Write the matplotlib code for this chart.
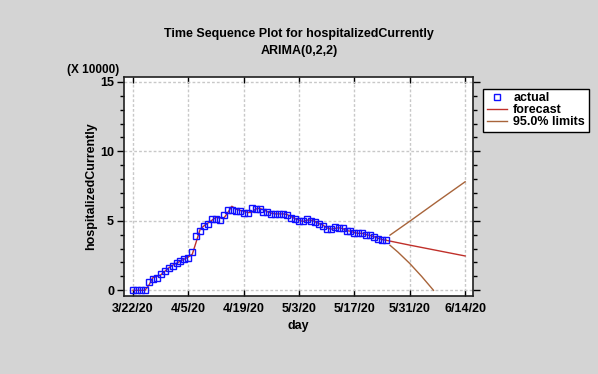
import numpy as np
import pandas as pd
import matplotlib
matplotlib.use('Agg')
import matplotlib.pyplot as plt
from matplotlib.ticker import MultipleLocator
from matplotlib.lines import Line2D

plt.rcParams['font.family'] = ['Liberation Sans', 'DejaVu Sans']
plt.rcParams['font.weight'] = 'bold'

# data (units of 10000)
start_day = '2020-03-22'
actual = [0.0, 0.0, 0.0, 0.05, 0.6, 0.8, 0.9, 1.15, 1.4, 1.6,
          1.75, 1.95, 2.1, 2.25, 2.3, 2.75, 3.9, 4.3, 4.6, 4.8,
          5.1, 5.1, 5.05, 5.4, 5.8, 5.75, 5.7, 5.7, 5.55, 5.55,
          5.9, 5.85, 5.85, 5.65, 5.6, 5.5, 5.5, 5.5, 5.5, 5.4,
          5.2, 5.1, 5.0, 5.0, 5.1, 5.0, 4.9, 4.75, 4.65, 4.4,
          4.4, 4.55, 4.5, 4.45, 4.25, 4.25, 4.15, 4.15, 4.1, 4.0,
          3.95, 3.8, 3.7, 3.65, 3.65]
fitted = [0.0, 0.0, 0.0, 0.0, 0.35, 0.9, 1.0, 1.1, 1.35, 1.6,
          1.8, 1.95, 2.1, 2.25, 2.4, 2.6, 3.5, 4.4, 4.65, 4.85,
          5.05, 5.25, 5.2, 5.2, 5.6, 6.05, 5.85, 5.75, 5.7, 5.6,
          5.6, 5.85, 5.9, 5.8, 5.65, 5.55, 5.5, 5.5, 5.5, 5.45,
          5.3, 5.15, 5.05, 4.95, 5.05, 5.05, 4.95, 4.8, 4.7, 4.5,
          4.4, 4.45, 4.5, 4.45, 4.3, 4.25, 4.15, 4.1, 4.1, 4.0,
          3.95, 3.85, 3.75, 3.65, 3.6]
fc_dates = ['2020-05-25', '2020-05-31', '2020-06-14']
fc_values = [3.6, 3.25, 2.47]
up_dates = ['2020-05-26', '2020-05-31', '2020-06-07', '2020-06-14']
up_values = [3.97, 4.97, 6.4, 7.81]
lo_dates = ['2020-05-26', '2020-05-28', '2020-05-31', '2020-06-03', '2020-06-06']
lo_values = [3.24, 2.75, 1.93, 1.0, 0.0]
tick_labels = ['3/22/20', '4/5/20', '4/19/20', '5/3/20', '5/17/20', '5/31/20', '6/14/20']

days = pd.date_range(start_day, periods=len(actual), freq='D')
tick_dates = pd.to_datetime(tick_labels, format='%m/%d/%y')

red = '#c0302a'
brown = '#a8643a'

fig = plt.figure(figsize=(5.98, 3.74), dpi=100, facecolor='#d4d4d4')
ax = fig.add_axes([0.207, 0.209, 0.584, 0.585])
ax.set_facecolor('white')

ax.plot(days, fitted, color=red, lw=1.0, zorder=2)
ax.plot(days, actual, 's', ms=4.5, mfc='none', mec='#1010ff', mew=1.0, zorder=3)
ax.plot(pd.to_datetime(fc_dates), fc_values, color=red, lw=1.0)
ax.plot(pd.to_datetime(up_dates), up_values, color=brown, lw=1.0)
ax.plot(pd.to_datetime(lo_dates), lo_values, color=brown, lw=1.0)

ax.set_xlim(pd.Timestamp('2020-03-19 16:00'), pd.Timestamp('2020-06-16'))
ax.set_ylim(-0.4, 15.35)
ax.set_xticks(tick_dates)
ax.set_xticklabels(tick_labels)
ax.yaxis.set_major_locator(MultipleLocator(5))
ax.yaxis.set_minor_locator(MultipleLocator(1))
ax.grid(True, which='major', color='#c8c8c8', ls=(0, (2, 1.5)), lw=1.0)

ax.tick_params(axis='x', direction='in', top=True, length=4, width=1, labelsize=9, pad=5)
ax.tick_params(axis='y', which='both', direction='out', right=True, width=1, labelsize=9, pad=2)
ax.tick_params(axis='y', which='major', length=5)
ax.tick_params(axis='y', which='minor', length=3)
for s in ax.spines.values():
    s.set_linewidth(1.2)
    s.set_color('#202020')

ax.set_xlabel('day', fontsize=9, fontweight='bold', labelpad=4)
ax.set_ylabel('hospitalizedCurrently', fontsize=9, fontweight='bold', labelpad=2)
fig.text(0.112, 0.812, '(X 10000)', fontsize=8.5, fontweight='bold', va='center')
fig.text(0.5, 0.887, 'Time Sequence Plot for hospitalizedCurrently\nARIMA(0,2,2)',
         ha='center', va='center', fontsize=9, fontweight='bold', linespacing=1.5)

handles = [Line2D([], [], ls='none', marker='s', ms=4, mfc='none', mec='#1010ff', mew=1.0),
           Line2D([], [], color=red, lw=1.0),
           Line2D([], [], color=brown, lw=1.0)]
leg = fig.legend(handles, ['actual', 'forecast', '95.0% limits'], loc='upper left',
                 bbox_to_anchor=(0.808, 0.763), fontsize=9, frameon=True, fancybox=False,
                 edgecolor='black', facecolor='white', framealpha=1, handlelength=1.6,
                 handletextpad=0.5, borderpad=0.3, labelspacing=0.0, borderaxespad=0)
leg.get_frame().set_linewidth(1.0)

fig.savefig('out.png', dpi=100, facecolor=fig.get_facecolor())
